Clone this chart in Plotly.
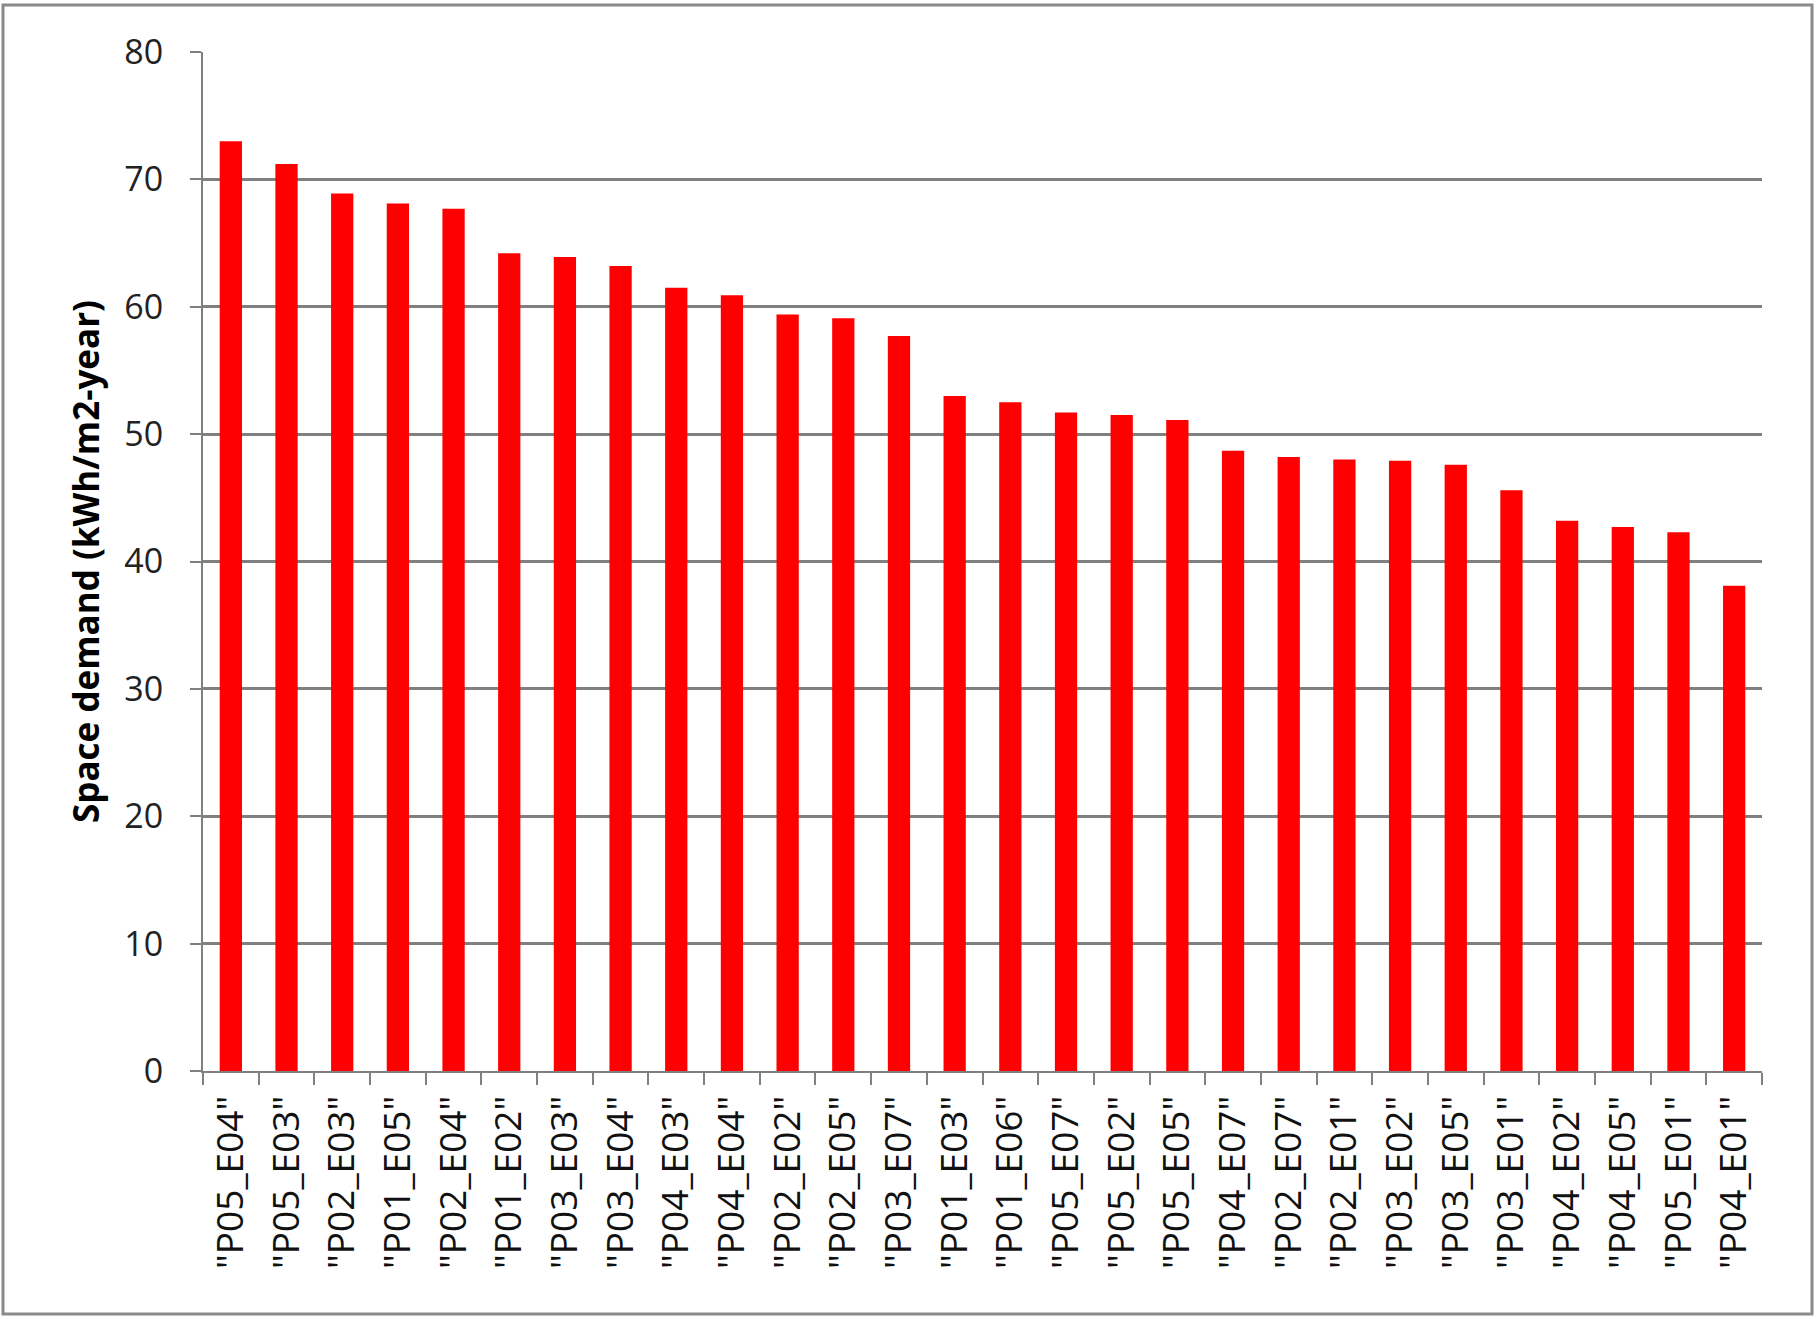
import plotly.graph_objects as go

categories = ['"P05_E04"', '"P05_E03"', '"P02_E03"', '"P01_E05"', '"P02_E04"', '"P01_E02"',
              '"P03_E03"', '"P03_E04"', '"P04_E03"', '"P04_E04"', '"P02_E02"', '"P02_E05"',
              '"P03_E07"', '"P01_E03"', '"P01_E06"', '"P05_E07"', '"P05_E02"', '"P05_E05"',
              '"P04_E07"', '"P02_E07"', '"P02_E01"', '"P03_E02"', '"P03_E05"', '"P03_E01"',
              '"P04_E02"', '"P04_E05"', '"P05_E01"', '"P04_E01"']
values = [73.0, 71.2, 68.9, 68.1, 67.7, 64.2, 63.9, 63.2, 61.5, 60.9, 59.4, 59.1,
          57.7, 53.0, 52.5, 51.7, 51.5, 51.1, 48.7, 48.2, 48.0, 47.9, 47.6, 45.6,
          43.2, 42.7, 42.3, 38.1]
y_ticks = [0, 10, 20, 30, 40, 50, 60, 70, 80]
y_title = "Space demand (kWh/m2-year)"

W, H = 1818, 1319
L, R, T, B = 203, 56, 52, 248
pw, ph = W - L - R, H - T - B

fig = go.Figure(go.Bar(x=categories, y=values, marker=dict(color="#FF0000", line=dict(width=0)),
                       width=0.4))

grid = "#808080"
fig.update_layout(
    width=W, height=H,
    margin=dict(l=L, r=R, t=T, b=B, autoexpand=False),
    plot_bgcolor="white", paper_bgcolor="white",
    showlegend=False,
    font=dict(family="Open Sans, sans-serif", color="#222222"),
    xaxis=dict(
        type="category", tickangle=-90, tickfont=dict(size=37, color="#111111"),
        showline=True, linecolor=grid, linewidth=2,
        ticks="outside", tickson="boundaries", ticklen=12, tickcolor=grid, tickwidth=2,
        showgrid=False, ticklabelstandoff=8, range=[-0.5, len(categories) - 0.5],
    ),
    yaxis=dict(
        range=[0, 80], tickvals=y_ticks, tickfont=dict(size=34, color="#222222"),
        showline=True, linecolor=grid, linewidth=2,
        ticks="outside", ticklen=11, tickcolor=grid, tickwidth=2,
        showgrid=True, gridcolor=grid, gridwidth=2.5, zeroline=False,
        ticklabelstandoff=20,
        title=dict(text="<b>" + y_title + "</b>", font=dict(size=35, color="#000000"), standoff=14),
    ),
    shapes=[dict(type="rect", xref="paper", yref="paper",
                 x0=(3 - L) / pw, x1=(1812 - L) / pw,
                 y0=(T + ph - 1314) / ph, y1=(T + ph - 5) / ph,
                 line=dict(color="#8a8a8a", width=3), fillcolor="rgba(0,0,0,0)", layer="below")],
)

fig.write_html("out.html", config={"displayModeBar": False},
               post_script="document.body.style.margin='0';")
